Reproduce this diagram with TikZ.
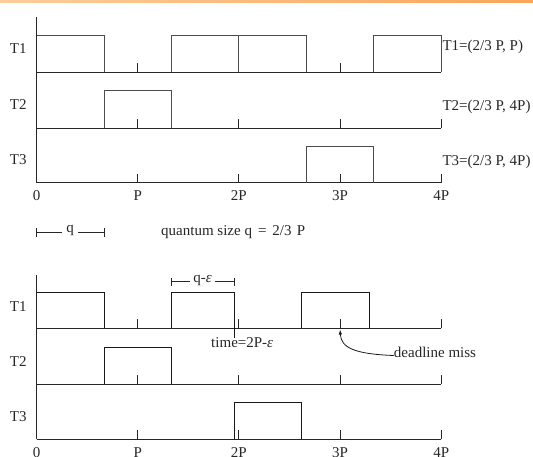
\documentclass[tikz,border=0pt]{standalone}
\usepackage{fontspec}
\setmainfont{Liberation Serif}
\usetikzlibrary{arrows.meta}
\begin{document}
\begin{tikzpicture}[x=1pt,y=-1pt,
  lbl/.style={inner sep=0pt,font=\fontsize{15}{16}\selectfont,text=black!85},
  taskline/.style={line width=0.9pt,draw=black!70},
  baseline/.style={line width=1pt,draw=black!85},
  tick/.style={line width=0.9pt,draw=black!85}]
\useasboundingbox (0,0) rectangle (533,456);
\shade[left color={rgb,255:red,253;green,205;blue,155},right color={rgb,255:red,249;green,165;blue,90}] (0,0) rectangle (533,2.2);
% ---------- top diagram ----------
\begin{scope}[x=101.2pt,xshift=36.5pt]
  \draw[baseline] (0,17) -- (0,182.7);
  \draw[baseline] (0,72.3) -- (4,72.3);
  \draw[baseline] (0,128) -- (4,128);
  \draw[baseline] (0,182.7) -- (4,182.7);
  % T1
  \draw[taskline] (0,35.7) -- (2/3,35.7) -- (2/3,72.3);
  \draw[taskline] (4/3,72.3) |- (8/3,35.7) -- (8/3,72.3);
  \draw[taskline] (2,35.7) -- (2,72.3);
  \draw[taskline] (10/3,72.3) |- (4,35.7) -- (4,72.3);
  % T2
  \draw[taskline] (2/3,128) |- (4/3,90.7) -- (4/3,128);
  % T3
  \draw[taskline] (8/3,182.7) |- (10/3,146.7) -- (10/3,182.7);
  % ticks
  \foreach \t in {1,3} \draw[tick] (\t,72.3) -- ++(0,-9);
  \foreach \t in {1,2,3,4} \draw[tick] (\t,128) -- ++(0,-9);
  \foreach \t in {1,2,3,4} \draw[tick] (\t,182.7) -- ++(0,-9);
  % labels
  \node[lbl] (t1a) at (-0.18,49) {T1};
  \node[lbl] (t2a) at (-0.18,105) {T2};
  \node[lbl] (t3a) at (-0.18,160) {T3};
  \node[lbl,anchor=west] (r1) at (4.01,47) {T1=(2/3 P, P)};
  \node[lbl,anchor=west] (r2) at (4.01,107) {T2=(2/3 P, 4P)};
  \node[lbl,anchor=west] (r3) at (4.01,162) {T3=(2/3 P, 4P)};
  \foreach \t/\s [count=\i] in {0/0,1/P,2/2P,3/3P,4/4P}
    \node[lbl] (xa\i) at (\t,196) {\s};
  % q dimension
  \coordinate (qL) at (0,232.5);
  \coordinate (qR) at (2/3,232.5);
  \draw[tick] (0,228) -- (0,237);
  \draw[tick] (2/3,228) -- (2/3,237);
  \node[lbl,inner sep=4pt] (qlab) at (1/3,230.5) {q};
  \draw[line width=0.8pt,black!85] (qL) -- (qlab.west|-qL);
  \draw[line width=0.8pt,black!85] (qlab.east|-qR) -- (qR);
\end{scope}
\node[lbl,anchor=west] (qtext) at (161,232) {quantum size q\hspace{0.4em}=\hspace{0.4em}2/3 \hspace{0.1em}P};
% ---------- bottom diagram ----------
\begin{scope}[x=101.2pt,xshift=36.5pt]
  \def\e{0.047}
  \draw[baseline] (0,275) -- (0,439);
  \draw[baseline] (0,328.3) -- (4,328.3);
  \draw[baseline] (0,384) -- (4,384);
  \draw[baseline] (0,439) -- (4,439);
  % T1
  \draw[taskline,black!90] (0,292.3) -- (2/3,292.3) -- (2/3,328.3);
  \draw[taskline,black!90] (4/3,328.3) |- (2-\e,292.3) -- (2-\e,338);
  \draw[taskline,black!90] (8/3-\e,328.3) |- (10/3-\e,292.3) -- (10/3-\e,328.3);
  % T2
  \draw[taskline,black!90] (2/3,384) |- (4/3,347.7) -- (4/3,384);
  % T3
  \draw[taskline,black!90] (2-\e,439) |- (8/3-\e,402.3) -- (8/3-\e,439);
  % ticks
  \foreach \t in {1,2,3,4} \draw[tick] (\t,328.3) -- ++(0,-9);
  \foreach \t in {1,2,3,4} \draw[tick] (\t,384) -- ++(0,-9);
  \foreach \t in {1,2,3,4} \draw[tick] (\t,439) -- ++(0,-9);
  % labels
  \node[lbl] (t1b) at (-0.18,307) {T1};
  \node[lbl] (t2b) at (-0.18,362) {T2};
  \node[lbl] (t3b) at (-0.18,417) {T3};
  \foreach \t/\s [count=\i] in {0/0,1/P,2/2P,3/3P,4/4P}
    \node[lbl] (xb\i) at (\t,453) {\s};
  % q - eps dimension
  \coordinate (dL) at (4/3,281.7);
  \coordinate (dR) at (2-\e,281.7);
  \draw[tick] (4/3,278) -- (4/3,285.5);
  \draw[tick] (2-\e,278) -- (2-\e,285.5);
  \node[lbl,inner sep=3pt] (dlab) at (1.64,280) {q-\textit{ε}};
  \draw[line width=0.8pt,black!85] (dL) -- (dlab.west|-dL);
  \draw[line width=0.8pt,black!85] (dlab.east|-dR) -- (dR);
  \node[lbl,anchor=east] (tlab) at (2.34,343) {time=2P-\textit{ε}};
  % deadline miss
  \coordinate (dm) at (3,329.5);
  \node[lbl,anchor=west] (dmlab) at (3.53,352) {deadline miss};
\end{scope}
\draw[line width=0.8pt,black!90,-{Latex[length=5pt,width=3.5pt]}] (dmlab.west|-0,355.5) .. controls (355,354) and (341,348) .. (dm);
\end{tikzpicture}
\end{document}
